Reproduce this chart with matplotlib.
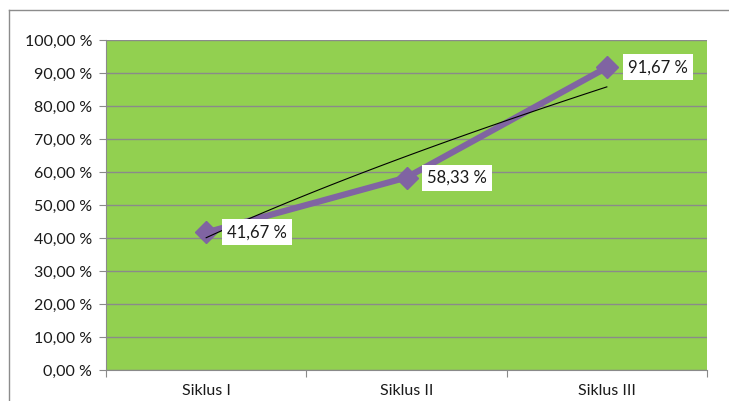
import numpy as np
import matplotlib
matplotlib.use("Agg")
import matplotlib.pyplot as plt
from matplotlib.lines import Line2D

categories = ["Siklus I", "Siklus II", "Siklus III"]
values = [41.67, 58.33, 91.67]
value_labels = ["41,67 %", "58,33 %", "91,67 %"]
yticks = [0, 10, 20, 30, 40, 50, 60, 70, 80, 90, 100]
ytick_labels = ["0,00 %", "10,00 %", "20,00 %", "30,00 %", "40,00 %", "50,00 %",
                "60,00 %", "70,00 %", "80,00 %", "90,00 %", "100,00 %"]

plt.rcParams['font.family'] = ['Lato', 'DejaVu Sans']

fig = plt.figure(figsize=(7.29, 4.01), dpi=100)
fig.patch.set_facecolor('white')
# chart border (left & top visible)
fig.add_artist(Line2D([9/729, 9/729], [0, 1 - 10/401], transform=fig.transFigure, color='#8c8c8c', lw=1))
fig.add_artist(Line2D([9/729, 1], [1 - 10/401, 1 - 10/401], transform=fig.transFigure, color='#8c8c8c', lw=1))

ax = fig.add_axes([106/729, 31/401, 601/729, 330/401])
ax.set_facecolor('#92D050')
x = np.arange(1, len(categories) + 1)
ax.set_xlim(0.5, len(categories) + 0.5)
ax.set_ylim(0, 100)

fs = 11.5
ax.set_yticks(yticks)
ax.set_yticklabels(ytick_labels, fontsize=fs, color='#1a1a1a')
ax.yaxis.grid(True, color='#8a8a8a', lw=1)
ax.set_axisbelow(True)

ax.set_xticks(np.arange(0.5, len(categories) + 1, 1))
ax.set_xticklabels([])
ax.set_xticks(x, minor=True)
ax.set_xticklabels(categories, minor=True, fontsize=fs, color='#1a1a1a')
ax.tick_params(axis='x', which='minor', length=0, pad=10)
ax.tick_params(axis='x', which='major', length=5, color='#8a8a8a', direction='out')
ax.tick_params(axis='y', length=5, color='#8a8a8a', direction='out', pad=5)

for s in ['top', 'right']:
    ax.spines[s].set_visible(False)
for s in ['left', 'bottom']:
    ax.spines[s].set_color('#8a8a8a')

ax.plot(x, values, color='#8064A2', lw=4.5, marker='D', markersize=11, zorder=3)

# power trendline fitted to the series (y = a * x^b)
b, lna = np.polyfit(np.log(x), np.log(values), 1)
xt = np.linspace(1, len(categories), 100)
ax.plot(xt, np.exp(lna) * xt ** b, color='black', lw=0.8, zorder=4)

for xi, v, lab in zip(x, values, value_labels):
    ax.annotate(lab, (xi, v), xytext=(15, 0), textcoords='offset points',
                ha='left', va='center', fontsize=12, color='#1a1a1a',
                bbox=dict(boxstyle='square,pad=0.3', fc='white', ec='none'), zorder=5)

fig.savefig('out.png', dpi=100)
